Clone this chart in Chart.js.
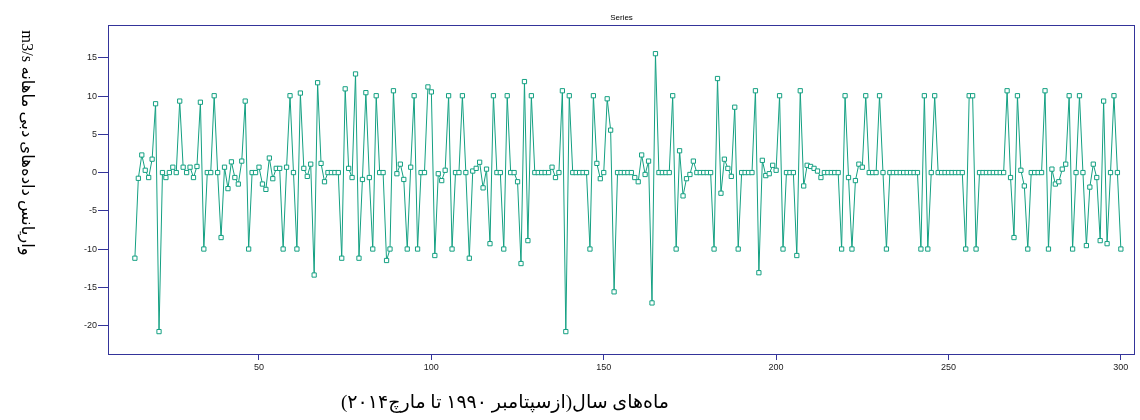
<!DOCTYPE html>
<html>
<head>
<meta charset="utf-8">
<script src="https://cdn.jsdelivr.net/npm/chart.js@4.4.1/dist/chart.umd.min.js"></script>
<style>
body{margin:0;background:#fff}
</style>
</head>
<body>
<canvas id="grafico" width="1140" height="420"></canvas>
<script>
// meses no eixo x (14 a 300)
let meses = []
let m = 13
while(m < 300){
    m++
    meses.push(m)
}

// valores
const valores = [
    -11.2, -0.75, 2.3, 0.3, -0.65, 1.75, 9.0, -20.8, 0, -0.65,
    0, 0.7, 0, 9.35, 0.7, 0, 0.7, -0.65, 0.8, 9.2,
    -10, 0, 0, 10.05, 0, -8.5, 0.7, -2.1, 1.4, -0.65,
    -1.5, 1.5, 9.35, -10, 0, 0, 0.7, -1.5, -2.2, 1.9,
    -0.8, 0.55, 0.55, -10, 0.7, 10.05, 0, -10, 10.4, 0.55,
    -0.5, 1.1, -13.4, 11.75, 1.2, -1.2, 0, 0, 0, 0,
    -11.2, 10.95, 0.55, -0.65, 12.9, -11.2, -0.9, 10.45, -0.65, -10,
    10.05, 0, 0, -11.5, -10, 10.7, -0.15, 1.1, -0.9, -10,
    0.7, 10.05, -10, 0, 0, 11.2, 10.55, -10.85, -0.15, -1.05,
    0.3, 10.05, -10, 0, 0, 10.05, 0, -11.2, 0.2, 0.55,
    1.35, -2.0, 0.45, -9.3, 10.05, 0, 0, -10, 10.05, 0,
    0, -1.2, -11.9, 11.9, -8.9, 10.05, 0, 0, 0, 0,
    0, 0.7, -0.65, 0, 10.7, -20.8, 10.05, 0, 0, 0,
    0, 0, -10, 10.05, 1.2, -0.8, 0, 9.65, 5.55, -15.6,
    0, 0, 0, 0, 0, -0.65, -1.2, 2.3, -0.25, 1.5,
    -17.05, 15.55, 0, 0, 0, 0, 10.05, -10, 2.85, -3.05,
    -0.8, -0.25, 1.5, 0, 0, 0, 0, 0, -10, 12.3,
    -2.7, 1.75, 0.55, -0.5, 8.55, -10, 0, 0, 0, 0,
    10.7, -13.1, 1.6, -0.4, -0.15, 0.95, 0.3, 10.05, -10, 0,
    0, 0, -10.85, 10.7, -1.75, 0.95, 0.8, 0.55, 0.2, -0.65,
    0, 0, 0, 0, 0, -10, 10.05, -0.65, -10, -1.05,
    1.1, 0.7, 10.05, 0, 0, 0, 10.05, 0, -10, 0,
    0, 0, 0, 0, 0, 0, 0, 0, -10, 10.05,
    -10, 0, 10.05, 0, 0, 0, 0, 0, 0, 0,
    0, -10, 10.05, 10.05, -10, 0, 0, 0, 0, 0,
    0, 0, 0, 10.7, -0.65, -8.5, 10.05, 0.3, -1.75, -10,
    0, 0, 0, 0, 10.7, -10, 0.45, -1.5, -1.2, 0.45,
    1.1, 10.05, -10, 0, 10.05, 0, -9.55, -1.9, 1.1, -0.65,
    -8.9, 9.35, -9.3, 0, 10.05, 0, -10
]

const ticksX = [50, 100, 150, 200, 250, 300]
const ticksY = [-20, -15, -10, -5, 0, 5, 10, 15]

const tituloSerie = 'Series'
const tituloX = 'ماه‌های سال(ازسپتامبر ۱۹۹۰ تا مارچ۲۰۱۴)'
const tituloY = 'واریانس داده‌های دبی ماهانه m3/s'

const corLinha = '#14a082'
const corEixo = '#34349a'

// moldura e textos
const textos = {
    id: 'textos',
    beforeDatasetsDraw(chart){
        const ctx = chart.ctx
        const a = chart.chartArea
        ctx.save()
        ctx.strokeStyle = corEixo
        ctx.lineWidth = 1
        ctx.strokeRect(Math.round(a.left) + 0.5, Math.round(a.top) + 0.5, Math.round(a.right - a.left) - 1, Math.round(a.bottom - a.top) - 1)
        ctx.restore()
    },
    afterDraw(chart){
        const ctx = chart.ctx
        const a = chart.chartArea
        ctx.save()
        ctx.fillStyle = '#000'
        ctx.textBaseline = 'alphabetic'
        ctx.textAlign = 'center'

        ctx.font = '8px Arial'
        ctx.fillText(tituloSerie, (a.left + a.right) / 2, 20)

        // titulo x (persa, da direita para a esquerda)
        ctx.direction = 'rtl'
        ctx.font = '19px "Times New Roman", "DejaVu Sans"'
        ctx.fillText(tituloX, 505, 408)

        // titulo y girado
        ctx.translate(22, 143)
        ctx.rotate(Math.PI / 2)
        ctx.font = '16.5px "Times New Roman", "DejaVu Sans"'
        ctx.fillText(tituloY, 0, 0)
        ctx.restore()
    }
}

var ctxG = document.getElementById('grafico').getContext('2d')
var grafico = new Chart(ctxG, {
    type: 'line',
    data: {
        datasets: [{
            label: tituloSerie,
            data: meses.map((mes, i) => ({x: mes, y: valores[i]})),
            borderColor: corLinha,
            borderWidth: 1,
            tension: 0,
            pointStyle: 'rect',
            pointRadius: 3,
            pointBorderWidth: 1,
            pointBorderColor: corLinha,
            pointBackgroundColor: '#ffffff'
        }]
    },
    options: {
        responsive: false,
        animation: false,
        layout: {
            padding: {left: 0, right: 1, top: 25, bottom: 0}
        },
        plugins: {
            legend: {display: false},
            title: {display: false},
            tooltip: {enabled: false}
        },
        scales: {
            x: {
                type: 'linear',
                min: 6.2,
                max: 304.1,
                afterBuildTicks: s => { s.ticks = ticksX.map(v => ({value: v})) },
                afterFit: s => { s.height = 65; s.paddingLeft = 0; s.paddingRight = 0 },
                border: {display: false},
                grid: {drawOnChartArea: false, tickLength: 5, color: corEixo},
                ticks: {
                    font: {size: 9, family: 'Arial'},
                    color: '#222',
                    padding: 2,
                    maxRotation: 0
                }
            },
            y: {
                min: -23.86,
                max: 19.3,
                afterBuildTicks: s => { s.ticks = ticksY.map(v => ({value: v})) },
                afterFit: s => { s.width = 108; s.paddingTop = 0; s.paddingBottom = 0 },
                border: {display: false},
                grid: {drawOnChartArea: false, tickLength: 10, color: corEixo},
                ticks: {
                    font: {size: 9, family: 'Arial'},
                    color: '#222',
                    padding: 1
                }
            }
        }
    },
    plugins: [textos]
})
</script>
</body>
</html>
